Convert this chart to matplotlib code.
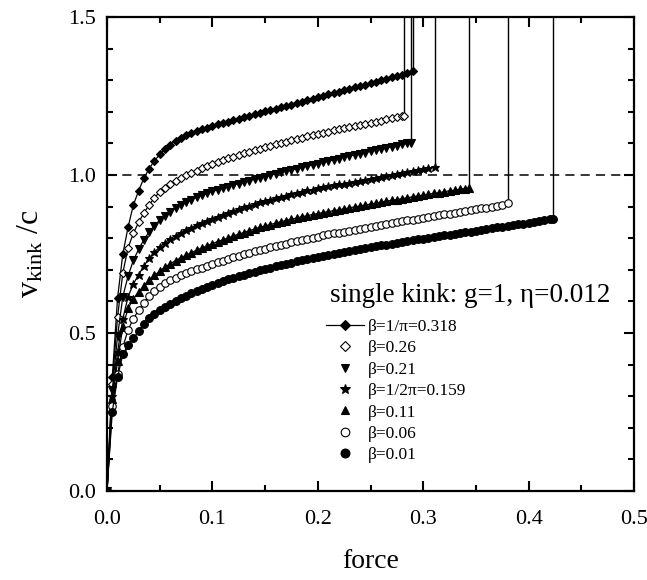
import numpy as np
import matplotlib
matplotlib.use("Agg")
import matplotlib.pyplot as plt
from matplotlib.lines import Line2D
from matplotlib.ticker import MultipleLocator

plt.rcParams['font.family'] = ['Liberation Serif', 'DejaVu Serif']
plt.rcParams['mathtext.fontset'] = 'custom'
plt.rcParams['mathtext.rm'] = 'Liberation Serif'
plt.rcParams['mathtext.it'] = 'Liberation Serif:italic'

# ---- data (force step 0.005, last point = critical force) ----
step = 0.005
labels = ["β=1/π=0.318", "β=0.26", "β=0.21", "β=1/2π=0.159", "β=0.11", "β=0.06", "β=0.01"]
f_end = [0.290, 0.282, 0.288, 0.311, 0.343, 0.380, 0.423]

v_318 = [0, 0.36, 0.61, 0.75, 0.835, 0.905, 0.95, 0.99, 1.02, 1.045, 1.065, 1.082, 1.096, 1.108,
         1.118, 1.126, 1.133, 1.139, 1.145, 1.150, 1.155, 1.160, 1.165, 1.169, 1.174, 1.178, 1.183,
         1.187, 1.192, 1.196, 1.201, 1.205, 1.210, 1.214, 1.219, 1.223, 1.228, 1.232, 1.237, 1.241,
         1.246, 1.250, 1.255, 1.259, 1.264, 1.268, 1.273, 1.277, 1.282, 1.286, 1.291, 1.295, 1.300,
         1.305, 1.309, 1.314, 1.318, 1.323, 1.328]
v_26 = [0, 0.34, 0.55, 0.69, 0.77, 0.815, 0.85, 0.88, 0.905, 0.928, 0.946, 0.96, 0.972, 0.982,
        0.991, 0.999, 1.006, 1.013, 1.021, 1.028, 1.035, 1.041, 1.047, 1.053, 1.058, 1.064, 1.069,
        1.074, 1.079, 1.083, 1.088, 1.092, 1.097, 1.101, 1.106, 1.110, 1.114, 1.118, 1.123, 1.127,
        1.130, 1.134, 1.137, 1.141, 1.144, 1.148, 1.151, 1.155, 1.158, 1.162, 1.165, 1.169, 1.172,
        1.176, 1.179, 1.183, 1.186, 1.187]
v_21 = [0, 0.32, 0.49, 0.615, 0.68, 0.73, 0.765, 0.795, 0.82, 0.84, 0.857, 0.871, 0.884, 0.895,
        0.905, 0.914, 0.922, 0.929, 0.936, 0.942, 0.948, 0.953, 0.958, 0.963, 0.968, 0.973, 0.977,
        0.982, 0.986, 0.991, 0.995, 1.0, 1.004, 1.008, 1.012, 1.016, 1.02, 1.024, 1.028, 1.032,
        1.036, 1.04, 1.044, 1.048, 1.052, 1.056, 1.06, 1.064, 1.067, 1.071, 1.075, 1.079, 1.082,
        1.086, 1.09, 1.093, 1.097, 1.100, 1.102]
v_159 = [0, 0.30, 0.44, 0.545, 0.615, 0.655, 0.685, 0.712, 0.737, 0.756, 0.772, 0.786, 0.798, 0.808,
         0.817, 0.825, 0.833, 0.841, 0.848, 0.855, 0.862, 0.868, 0.874, 0.880, 0.886, 0.892, 0.898,
         0.903, 0.908, 0.913, 0.918, 0.922, 0.927, 0.931, 0.935, 0.939, 0.943, 0.947, 0.951, 0.954,
         0.958, 0.961, 0.964, 0.967, 0.970, 0.973, 0.976, 0.979, 0.982, 0.985, 0.988, 0.991, 0.994,
         0.997, 1.000, 1.003, 1.006, 1.009, 1.012, 1.015, 1.018, 1.021, 1.025]
v_11 = [0, 0.29, 0.41, 0.52, 0.578, 0.608, 0.630, 0.650, 0.667, 0.682, 0.696, 0.708, 0.719, 0.729,
        0.738, 0.746, 0.754, 0.762, 0.769, 0.776, 0.783, 0.789, 0.795, 0.801, 0.807, 0.813, 0.818,
        0.824, 0.829, 0.834, 0.839, 0.843, 0.848, 0.852, 0.856, 0.860, 0.864, 0.868, 0.871, 0.875,
        0.878, 0.881, 0.884, 0.887, 0.890, 0.893, 0.896, 0.899, 0.902, 0.905, 0.908, 0.911, 0.914,
        0.917, 0.920, 0.922, 0.925, 0.928, 0.931, 0.934, 0.936, 0.939, 0.942, 0.944, 0.947, 0.950,
        0.952, 0.955, 0.957, 0.959]
v_06 = [0, 0.27, 0.37, 0.455, 0.51, 0.545, 0.572, 0.596, 0.617, 0.632, 0.645, 0.657, 0.667, 0.675,
        0.682, 0.689, 0.695, 0.701, 0.707, 0.713, 0.719, 0.724, 0.729, 0.734, 0.739, 0.744, 0.749,
        0.753, 0.758, 0.762, 0.767, 0.771, 0.775, 0.779, 0.783, 0.787, 0.791, 0.795, 0.798, 0.802,
        0.805, 0.809, 0.812, 0.815, 0.818, 0.821, 0.824, 0.827, 0.830, 0.833, 0.836, 0.839, 0.842,
        0.845, 0.848, 0.851, 0.854, 0.857, 0.859, 0.862, 0.865, 0.868, 0.870, 0.873, 0.876, 0.878,
        0.881, 0.884, 0.886, 0.889, 0.892, 0.894, 0.897, 0.900, 0.902, 0.905, 0.910]
v_01 = [0, 0.25, 0.36, 0.432, 0.462, 0.484, 0.505, 0.530, 0.546, 0.560, 0.572, 0.583, 0.593, 0.602,
        0.610, 0.618, 0.626, 0.633, 0.640, 0.647, 0.653, 0.659, 0.665, 0.670, 0.675, 0.680, 0.685,
        0.690, 0.694, 0.699, 0.703, 0.707, 0.711, 0.715, 0.719, 0.723, 0.727, 0.731, 0.734, 0.738,
        0.741, 0.745, 0.748, 0.751, 0.754, 0.757, 0.760, 0.763, 0.766, 0.769, 0.772, 0.775, 0.778,
        0.780, 0.783, 0.786, 0.788, 0.791, 0.794, 0.796, 0.799, 0.801, 0.804, 0.806, 0.809, 0.811,
        0.814, 0.816, 0.819, 0.821, 0.824, 0.826, 0.829, 0.831, 0.834, 0.836, 0.839, 0.841, 0.844,
        0.846, 0.849, 0.851, 0.854, 0.857, 0.860, 0.862]

series = [v_318, v_26, v_21, v_159, v_11, v_06, v_01]

# marker styles: (marker, size, filled)
styles = [("D", 4.4, True), ("D", 4.4, False), ("v", 5.4, True), ("*", 6.3, True),
          ("^", 5.4, True), ("o", 5.4, False), ("o", 5.6, True)]

fig = plt.figure(figsize=(6.47, 5.80), dpi=100)
ax = fig.add_axes([107/647, 1-491/580, (634-107)/647, (491-17)/580])

for v, fe, (mk, ms, filled) in zip(series, f_end, styles):
    x = np.append(np.arange(len(v)-1) * step, fe)
    y = np.array(v)
    ax.plot(x, y, color='black', lw=0.9, marker=mk, ms=ms,
            mfc='black' if filled else 'white', mec='black', mew=0.8, zorder=3)
    ax.plot([fe, fe], [y[-1], 1.5], color='black', lw=1.0, zorder=2)

ax.axhline(1.0, color='black', lw=1.1, ls=(0, (6, 4)), zorder=1)

ax.set_xlim(0, 0.5)
ax.set_ylim(0, 1.5)
ax.xaxis.set_major_locator(MultipleLocator(0.1))
ax.xaxis.set_minor_locator(MultipleLocator(0.05))
ax.yaxis.set_major_locator(MultipleLocator(0.5))
ax.yaxis.set_minor_locator(MultipleLocator(0.1))
ax.xaxis.set_major_formatter(plt.FuncFormatter(lambda v, p: f"{v:.1f}"))
ax.yaxis.set_major_formatter(plt.FuncFormatter(lambda v, p: f"{v:.1f}"))
ax.tick_params(which='both', direction='in', top=True, right=True, width=1.5,
               labelsize=16)
ax.tick_params(axis='x', which='major', pad=14)
ax.tick_params(axis='y', which='major', pad=8)
ax.tick_params(which='major', length=7)
ax.tick_params(which='minor', length=4)
for s in ax.spines.values():
    s.set_linewidth(1.6)

ax.set_xlabel("force", fontsize=20, labelpad=14)
ax.set_ylabel(r"$\mathregular{v_{kink}}$ /c", fontsize=23, labelpad=16)

ax.text(0.2116, 0.62, "single kink: g=1, η=0.012", fontsize=19.5, ha='left', va='center')

handles = []
for i, (mk, ms, filled) in enumerate(styles):
    handles.append(Line2D([], [], color='black', lw=0.9 if i == 0 else 0,
                          ls='-' if i == 0 else 'none', marker=mk, ms=ms + 0.8,
                          mfc='black' if filled else 'white', mec='black', mew=0.8))
ax.legend(handles, labels, loc='upper left', bbox_to_anchor=(0.4156, 0.363),
          frameon=False, fontsize=12.5, handlelength=2.2, handletextpad=0.2,
          labelspacing=0.3, borderpad=0, borderaxespad=0)

fig.savefig("out.png", dpi=100)
